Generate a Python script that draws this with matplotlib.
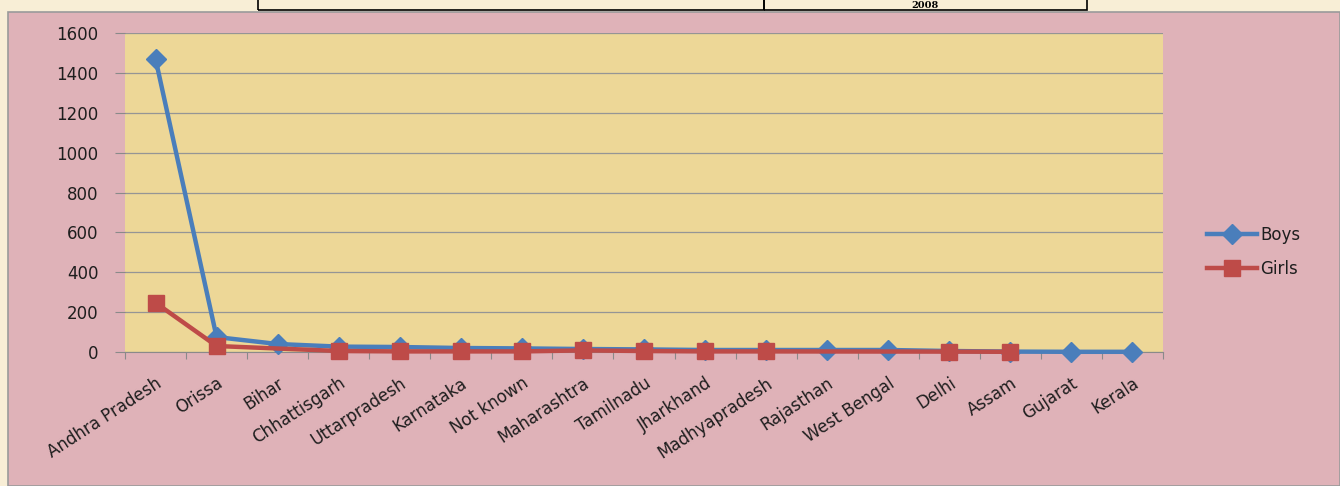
import matplotlib
matplotlib.use("Agg")
import matplotlib.pyplot as plt
from matplotlib.patches import Rectangle
from matplotlib.lines import Line2D

states = ["Andhra Pradesh", "Orissa", "Bihar", "Chhattisgarh", "Uttarpradesh",
          "Karnataka", "Not known", "Maharashtra", "Tamilnadu", "Jharkhand",
          "Madhyapradesh", "Rajasthan", "West Bengal", "Delhi", "Assam",
          "Gujarat", "Kerala"]
boys = [1470, 75, 40, 27, 25, 20, 18, 15, 13, 10, 10, 10, 10, 5, 2, 1, 1]
girls = [247, 30, None, 5, 3, 3, 3, 8, 5, 3, 3, None, None, 2, 1, None, None]
y_ticks = [0, 200, 400, 600, 800, 1000, 1200, 1400, 1600]

W, H = 1340, 486
plt.rcParams["font.family"] = ["DejaVu Sans"]
TXT = "#1e1e1e"
FS = 12
fig = plt.figure(figsize=(W / 100, H / 100), dpi=100, facecolor="#f8eed6")

# pink chart panel
fig.patches.append(Rectangle((8 / W, 0), 1 - 8 / W, 1 - 12 / H, transform=fig.transFigure,
                             facecolor="#dfb2b8", edgecolor="#9a9a9a", lw=1.2, zorder=-10))
# table fragment at the top
for x0, x1 in [(258, 764), (764, 1087)]:
    fig.patches.append(Rectangle((x0 / W, 1 - 10 / H), (x1 - x0) / W, 12 / H,
                                 transform=fig.transFigure, facecolor="none",
                                 edgecolor="black", lw=1.2, zorder=-9))
fig.text(925 / W, 1 - 5 / H, "2008", ha="center", va="center", fontsize=7,
         fontweight="bold", family="DejaVu Serif", color="black")

ax = fig.add_axes([125 / W, 1 - 352 / H, (1163 - 125) / W, (352 - 33) / H])
ax.set_facecolor("#edd797")

x = list(range(len(states)))
gx = [i for i, v in zip(x, girls) if v is not None]
gy = [v for v in girls if v is not None]

ax.plot(x, boys, color="#4a7ebb", lw=3.2, marker="D", markersize=10.5,
        markerfacecolor="#4a7ebb", markeredgecolor="#4a7ebb", zorder=3, clip_on=False)
ax.plot(gx, gy, color="#be4b48", lw=3.2, marker="s", markersize=11,
        markerfacecolor="#be4b48", markeredgecolor="#be4b48", zorder=4, clip_on=False)

ax.set_xlim(-0.5, len(states) - 0.5)
ax.set_ylim(0, 1600)
ax.set_yticks(y_ticks)
ax.set_yticklabels([str(v) for v in y_ticks], fontsize=FS, color=TXT)
ax.yaxis.grid(True, color="#959595", lw=0.9)
ax.set_axisbelow(True)

ax.set_xticks([i - 0.5 for i in range(len(states) + 1)], minor=False)
ax.set_xticklabels([])
ax.set_xticks(x, minor=True)
ax.set_xticklabels(states, minor=True, rotation=33, ha="right", va="top",
                   rotation_mode="anchor", fontsize=FS, color=TXT)
ax.tick_params(axis="x", which="minor", length=0, pad=16)
ax.tick_params(axis="x", which="major", length=5, color="#8a8a8a", direction="out")
ax.tick_params(axis="y", length=7, color="#8a8a8a", pad=12)

for s in ["top", "right", "left"]:
    ax.spines[s].set_visible(False)
ax.spines["bottom"].set_color("#8a8a8a")

handles = [Line2D([], [], color="#4a7ebb", lw=3.2, marker="D", markersize=10.5),
           Line2D([], [], color="#be4b48", lw=3.2, marker="s", markersize=11)]
fig.legend(handles, ["Boys", "Girls"], loc="center left",
           bbox_to_anchor=(1192 / W, 1 - 252 / H), frameon=False,
           fontsize=FS, handlelength=3.0, handletextpad=0.2, labelspacing=1.0,
           labelcolor=TXT)

fig.savefig("out.png", dpi=100, facecolor=fig.get_facecolor())
